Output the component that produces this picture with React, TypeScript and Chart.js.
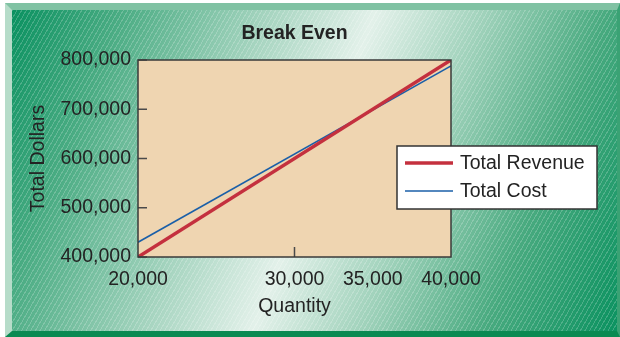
import React, { useEffect, useRef } from "react";
import { Chart, registerables } from "chart.js";

Chart.register(...registerables);

// ---- data ----
const quantities = [20000, 40000];
const totalRevenue = [400000, 800000];
const totalCost = [430000, 788000];
const xTickValues = [20000, 30000, 35000, 40000];
const xTickMarks = [30000];
const yTickValues = [400000, 500000, 600000, 700000, 800000];
const seriesNames = ["Total Revenue", "Total Cost"];
const chartTitle = "Break Even";
const xTitle = "Quantity";
const yTitle = "Total Dollars";

const FONT = "'Liberation Sans', Arial, Helvetica, sans-serif";
const FS = 19.5;
const TEXT = "#232323";
const fmt = (v: number) => v.toLocaleString("en-US");

const plotBg = {
  id: "plotBg",
  beforeDatasetsDraw(chart: any) {
    const { ctx, chartArea: a } = chart;
    ctx.save();
    ctx.fillStyle = "#efd5b1";
    ctx.fillRect(a.left, a.top, a.right - a.left, a.bottom - a.top);
    ctx.restore();
  },
};

const frame = {
  id: "frame",
  afterDatasetsDraw(chart: any) {
    const { ctx, chartArea: a, scales } = chart;
    ctx.save();
    ctx.strokeStyle = "#4a4a4a";
    ctx.lineWidth = 1.5;
    ctx.beginPath();
    yTickValues.forEach((v) => {
      const y = scales.y.getPixelForValue(v);
      ctx.moveTo(a.left, y);
      ctx.lineTo(a.left + 9, y);
    });
    xTickMarks.forEach((v) => {
      const x = scales.x.getPixelForValue(v);
      ctx.moveTo(x, a.bottom);
      ctx.lineTo(x, a.bottom - 10);
    });
    ctx.stroke();
    ctx.strokeStyle = "#3a3a3a";
    ctx.strokeRect(a.left, a.top, a.right - a.left, a.bottom - a.top);
    ctx.restore();
  },
};

const legendBox = {
  id: "legendBox",
  afterDraw(chart: any) {
    const { ctx, chartArea: a } = chart;
    const x0 = a.right - 54;
    const y0 = a.top + 86;
    const w = 200;
    const h = 63;
    ctx.save();
    ctx.fillStyle = "#ffffff";
    ctx.fillRect(x0, y0, w, h);
    ctx.strokeStyle = "#333333";
    ctx.lineWidth = 1.5;
    ctx.strokeRect(x0, y0, w, h);
    chart.data.datasets.forEach((ds: any, i: number) => {
      const y = y0 + 17 + i * 28;
      ctx.strokeStyle = ds.borderColor;
      ctx.lineWidth = ds.borderWidth;
      ctx.beginPath();
      ctx.moveTo(x0 + 8, y);
      ctx.lineTo(x0 + 56, y);
      ctx.stroke();
      ctx.fillStyle = TEXT;
      ctx.font = `${FS}px ${FONT}`;
      ctx.textBaseline = "middle";
      ctx.textAlign = "left";
      ctx.fillText(ds.label, x0 + 63, y + 1);
    });
    ctx.restore();
  },
};

export default function App() {
  const ref = useRef<HTMLCanvasElement | null>(null);

  useEffect(() => {
    if (!ref.current) return;
    const chart = new Chart(ref.current, {
      type: "line",
      data: {
        datasets: [
          {
            label: seriesNames[0],
            data: quantities.map((q, i) => ({ x: q, y: totalRevenue[i] })),
            borderColor: "#c4303e",
            borderWidth: 3.5,
            pointRadius: 0,
            tension: 0,
          },
          {
            label: seriesNames[1],
            data: quantities.map((q, i) => ({ x: q, y: totalCost[i] })),
            borderColor: "#1a5fa8",
            borderWidth: 1.6,
            pointRadius: 0,
            tension: 0,
          },
        ],
      },
      options: {
        animation: false,
        responsive: false,
        devicePixelRatio: 1,
        layout: { padding: { left: 0, top: 0, right: 169, bottom: 0 } },
        plugins: {
          legend: { display: false },
          tooltip: { enabled: false },
          title: {
            display: true,
            text: chartTitle,
            fullSize: false,
            color: TEXT,
            font: { family: FONT, size: FS, weight: "bold" },
            padding: { top: 22, bottom: 14.6 },
          },
        },
        scales: {
          x: {
            type: "linear",
            min: quantities[0],
            max: quantities[quantities.length - 1],
            grid: { display: false, drawTicks: false, tickLength: 0 },
            border: { display: false },
            afterBuildTicks: (s: any) => {
              s.ticks = xTickValues.map((v) => ({ value: v }));
            },
            afterFit: (s: any) => {
              s.height = 80;
            },
            ticks: {
              color: TEXT,
              font: { family: FONT, size: FS },
              padding: 10.5,
              maxRotation: 0,
              autoSkip: false,
              callback: (v: any) => fmt(Number(v)),
            },
            title: {
              display: true,
              text: xTitle,
              color: TEXT,
              font: { family: FONT, size: FS },
              padding: { top: 0, bottom: 18.3 },
            },
          },
          y: {
            type: "linear",
            min: yTickValues[0],
            max: yTickValues[yTickValues.length - 1],
            grid: { display: false, drawTicks: false, tickLength: 0 },
            border: { display: false },
            afterBuildTicks: (s: any) => {
              s.ticks = yTickValues.map((v) => ({ value: v }));
            },
            afterFit: (s: any) => {
              s.width = 138;
            },
            ticks: {
              color: TEXT,
              font: { family: FONT, size: FS },
              padding: 7,
              autoSkip: false,
              callback: (v: any) => fmt(Number(v)),
            },
            title: {
              display: true,
              text: yTitle,
              color: TEXT,
              font: { family: FONT, size: FS },
              padding: { top: 27, bottom: 0 },
            },
          },
        },
      },
      plugins: [plotBg, frame, legendBox],
    } as any);
    return () => chart.destroy();
  }, []);

  return (
    <div
      style={{
        position: "fixed",
        left: 0,
        top: 0,
        width: 620,
        height: 337,
        background: "#ffffff",
        overflow: "hidden",
      }}
    >
      <div
        style={{
          position: "absolute",
          left: 5,
          top: 3,
          width: 615,
          height: 334,
          boxSizing: "border-box",
          borderTop: "7px solid #80c2a3",
          borderLeft: "7px solid #b6dcc9",
          borderBottom: "6px solid #0a8a52",
          borderRight: "3px solid #3aa274",
          background:
            "repeating-linear-gradient(120deg, rgba(255,255,255,0.2) 0px, rgba(255,255,255,0.2) 1px, rgba(255,255,255,0) 1px, rgba(255,255,255,0) 4px), linear-gradient(111deg, #0a9160 0%, #4aac83 15%, #a5d4bf 35%, #e3f1ea 50%, #a0d2bb 65%, #48aa7f 82%, #0b9260 100%)",
        }}
      />
      <canvas
        ref={ref}
        width={620}
        height={337}
        style={{ position: "absolute", left: 0, top: 0, width: 620, height: 337 }}
      />
    </div>
  );
}
